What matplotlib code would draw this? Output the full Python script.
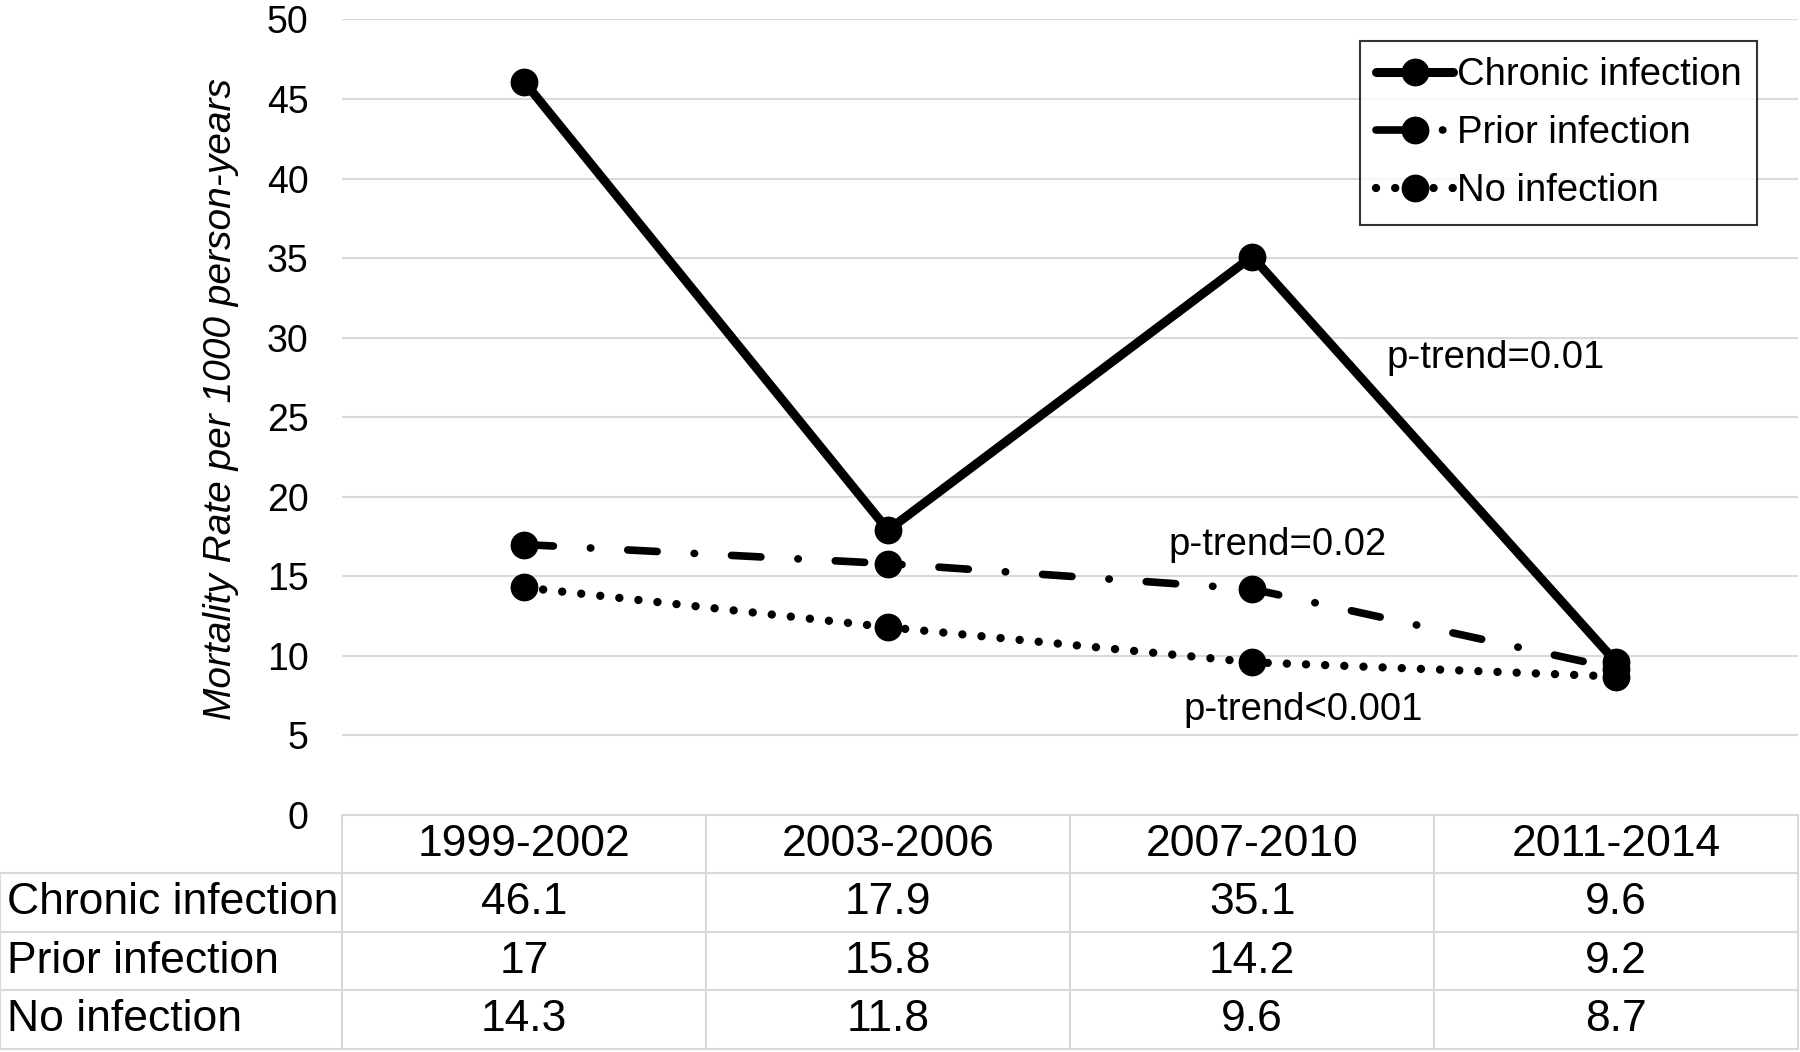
import matplotlib
matplotlib.use('Agg')
import matplotlib.pyplot as plt
from matplotlib.table import Table

plt.rcParams['font.family'] = ['Liberation Sans', 'DejaVu Sans']

periods = ['1999-2002', '2003-2006', '2007-2010', '2011-2014']
series = ['Chronic infection', 'Prior infection', 'No infection']
chronic = [46.1, 17.9, 35.1, 9.6]
prior = [17, 15.8, 14.2, 9.2]
none_inf = [14.3, 11.8, 9.6, 8.7]
table_text = [['46.1', '17.9', '35.1', '9.6'],
              ['17', '15.8', '14.2', '9.2'],
              ['14.3', '11.8', '9.6', '8.7']]
ptrend_labels = ['p-trend=0.01', 'p-trend=0.02', 'p-trend<0.001']
ptrend_pos = [(2.67, 28.7), (2.07, 17.0), (2.14, 6.6)]
yticks = list(range(0, 55, 5))

fig = plt.figure(figsize=(18, 10.52), dpi=100)
ax = fig.add_axes([0.19, 0.2253, 0.809, 0.7562])

x = list(range(len(periods)))
ax.plot(x, chronic, color='black', lw=6.5, marker='o', ms=19,
        solid_capstyle='round', label=series[0])
ax.plot(x, prior, color='black', lw=5.5, marker='o', ms=19,
        linestyle=(0, (3.85, 4.85, 0.05, 4.85)), dash_capstyle='round',
        label=series[1])
ax.plot(x, none_inf, color='black', lw=6, marker='o', ms=19,
        linestyle=(0, (0.01, 2.29)), dash_capstyle='round', label=series[2])

for txt, (px, py) in zip(ptrend_labels, ptrend_pos):
    ax.text(px, py, txt, fontsize=27.5, ha='center', va='center')

ax.set_xlim(-0.5, 3.5)
ax.set_ylim(0, 50)
ax.set_yticks(yticks)
ax.set_xticks([])
ax.tick_params(axis='y', length=0, pad=24, labelsize=27)
ax.grid(axis='y', color='#d9d9d9', lw=1.5)
ax.set_axisbelow(True)
for s in ax.spines.values():
    s.set_visible(False)

ax.set_ylabel('Mortality Rate per 1000 person-years', fontsize=28, style='italic')
ax.yaxis.set_label_coords(-0.071, 0.523)

leg = ax.legend(loc='upper right', bbox_to_anchor=(0.972, 0.973), borderaxespad=0,
                fontsize=27.5, frameon=True, fancybox=False, handlelength=2.0,
                handletextpad=0.1, labelspacing=0.58, borderpad=0.42)
leg.get_frame().set_edgecolor('black')
leg.get_frame().set_linewidth(1.5)

# data table under the plot
label_w = 0.2346
col_w = 1.0 / len(periods)
tb = Table(ax, bbox=[-label_w, -0.294, 1 + label_w, 0.294])
rh = 1.0 / (len(series) + 1)
tb.add_cell(0, 0, width=label_w, height=rh, text='', loc='center')
for j, p in enumerate(periods):
    tb.add_cell(0, j + 1, width=col_w, height=rh, text=p, loc='center')
for i, name in enumerate(series):
    c = tb.add_cell(i + 1, 0, width=label_w, height=rh, text=name, loc='left')
    c.PAD = 0.02
    for j, v in enumerate(table_text[i]):
        tb.add_cell(i + 1, j + 1, width=col_w, height=rh, text=v, loc='center')
tb.auto_set_font_size(False)
tb.set_fontsize(32)
for (r, c), cell in tb.get_celld().items():
    cell.set_edgecolor('#d9d9d9')
    cell.set_linewidth(1.5)
tb[0, 0].visible_edges = 'open'
tb.set_clip_on(False)
ax.add_table(tb)

fig.savefig('out.png', dpi=100)
